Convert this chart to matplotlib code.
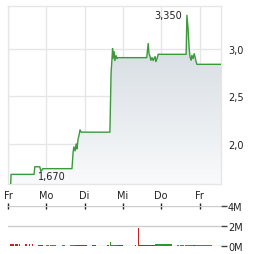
import numpy as np
import matplotlib
matplotlib.use("Agg")
import matplotlib.pyplot as plt
from matplotlib.ticker import FuncFormatter, FixedLocator
from matplotlib.patches import Polygon

# ---- data (time in trading days from first Friday) ----
price_t = [0.07, 0.08, 0.68, 0.70, 0.83, 0.86, 0.91, 1.66, 1.67, 1.70, 1.72, 1.75, 1.78, 1.80,
           1.83, 1.85, 1.88, 1.91, 2.66, 2.69, 2.73, 2.74, 2.77, 2.79, 2.82, 2.85, 2.87, 3.62,
           3.66, 3.68, 3.71, 3.73, 3.76, 3.79, 3.81, 3.84, 3.86, 3.89, 3.92, 4.65, 4.67, 4.70,
           4.73, 4.75, 4.78, 4.80, 4.83, 4.86, 4.88, 4.91, 4.93, 5.56]
price_v = [1.58, 1.68, 1.68, 1.76, 1.76, 1.71, 1.74, 1.74, 1.74, 1.916, 1.968, 1.926, 2.0, 1.947,
           2.053, 2.084, 2.147, 2.123, 2.123, 2.737, 3.0, 2.895, 2.968, 2.874, 2.926, 2.895, 2.905, 2.905,
           3.053, 2.947, 2.916, 2.877, 2.905, 2.874, 2.895, 2.916, 2.863, 2.895, 2.94, 2.94, 3.35, 3.21,
           3.0, 2.916, 2.877, 2.93, 2.895, 2.947, 2.916, 2.863, 2.835, 2.835]

day_labels = ["Fr", "Mo", "Di", "Mi", "Do", "Fr"]
day_pos = [0, 1, 2, 3, 4, 5]
price_ticks = [2.0, 2.5, 3.0]
vol_ticks = [0, 2, 4]
vol_tick_labels = ["0M", "2M", "4M"]

# volume segments: start day, end day, volume (M), direction (1 up / 0 down)
vol_start = [0.05, 0.18, 0.29, 0.44, 0.55, 0.63, 0.65, 0.78, 0.99, 1.10, 1.28, 1.41, 1.57, 1.62, 1.75,
             1.81, 1.92, 2.08, 2.20, 2.58, 2.66, 2.67, 2.85, 3.32, 3.39, 3.42, 3.84, 4.41, 4.49, 4.62,
             4.83, 4.88]
vol_end = [0.16, 0.26, 0.31, 0.50, 0.57, 0.66, 0.78, 0.91, 1.07, 1.26, 1.31, 1.49, 1.60, 1.75, 1.96,
           1.85, 2.07, 2.10, 2.30, 2.64, 2.68, 2.85, 2.99, 3.34, 3.41, 3.84, 4.28, 4.46, 4.59, 4.83,
           4.88, 5.33]
vol_val = [0.25, 0.25, 0.25, 0.25, 0.2, 0.2, 0.08, 0.1, 0.1, 0.1, 0.08, 0.1, 0.08, 0.1, 0.1,
           0.1, 0.1, 0.1, 0.1, 0.12, 0.45, 0.1, 0.1, 0.1, 1.8, 0.1, 0.22, 0.15, 0.15, 0.1,
           0.12, 0.15]
vol_dir = [0, 0, 0, 0, 0, 0, 1, 0, 1, 1, 1, 1, 1, 1, 0,
           0, 0, 0, 0, 0, 1, 1, 0, 0, 0, 0, 1, 1, 1, 1,
           0, 1]

xmax = 5.56
ymin, ymax = 1.579, 3.447

W, H = 264, 255
fig = plt.figure(figsize=(W / 100, H / 100), dpi=100)
txt = "#222222"
grid_c = "#e6e6e6"

ax = fig.add_axes([8 / W, 1 - 185 / H, 213 / W, 178 / H])
ax.set_xlim(0, xmax)
ax.set_ylim(ymin, ymax)

# gradient fill under line
poly_x = [price_t[0]] + price_t + [price_t[-1]]
poly_y = [ymin] + price_v + [ymin]
poly = Polygon(np.column_stack([poly_x, poly_y]), closed=True, facecolor="none", edgecolor="none")
ax.add_patch(poly)
grad = np.linspace(0, 1, 256).reshape(-1, 1)
from matplotlib.colors import LinearSegmentedColormap
cmap = LinearSegmentedColormap.from_list("g", ["#cfd7de", "#f9fafb"])
im = ax.imshow(grad, extent=[0, xmax, ymin, 3.35], origin="upper", aspect="auto", cmap=cmap, zorder=1)
im.set_clip_path(poly)

ax.plot(price_t, price_v, color="#3a9a3a", lw=1.0, zorder=3)

ax.xaxis.set_major_locator(FixedLocator(day_pos))
ax.set_xticklabels(day_labels)
ax.yaxis.set_major_locator(FixedLocator(price_ticks))
ax.yaxis.set_major_formatter(FuncFormatter(lambda v, p: f"{v:.1f}".replace(".", ",")))
ax.yaxis.tick_right()
ax.grid(True, color=grid_c, lw=1)
ax.set_axisbelow(True)
for s in ax.spines.values():
    s.set_color(grid_c)
    s.set_linewidth(1)
ax.tick_params(axis="both", length=0, labelsize=7, colors=txt)
ax.tick_params(axis="x", pad=4)
ax.tick_params(axis="y", pad=5)

ax.text(4.67 - 0.13, 3.35, "3,350", fontsize=7, color=txt, ha="right", va="center")
ax.text(0.78, 1.663, "1,670", fontsize=7, color=txt, ha="left", va="center")

# volume panel
axv = fig.add_axes([8 / W, 1 - 247.3 / H, 213 / W, 40 / H])
axv.set_xlim(0, xmax)
axv.set_ylim(0, 4)
colors = ["#2a9a2a" if d else "#c8201e" for d in vol_dir]
axv.bar(vol_start, vol_val, width=np.array(vol_end) - np.array(vol_start), align="edge",
        color=colors, zorder=3, linewidth=0)
axv.yaxis.set_major_locator(FixedLocator(vol_ticks))
axv.set_yticklabels(vol_tick_labels)
axv.yaxis.tick_right()
axv.grid(True, axis="y", color="#cccccc", lw=1)
axv.xaxis.set_ticks_position("top")
axv.xaxis.set_major_locator(FixedLocator(day_pos))
axv.tick_params(axis="x", direction="inout", length=4, width=1, colors="#222222", labeltop=False, labelbottom=False)
axv.tick_params(axis="y", direction="out", length=4, width=1, colors="#444444", labelsize=7, pad=1)
axv.tick_params(axis="y", labelcolor=txt)
for s in axv.spines.values():
    s.set_visible(False)

fig.savefig("out.png", dpi=100)
